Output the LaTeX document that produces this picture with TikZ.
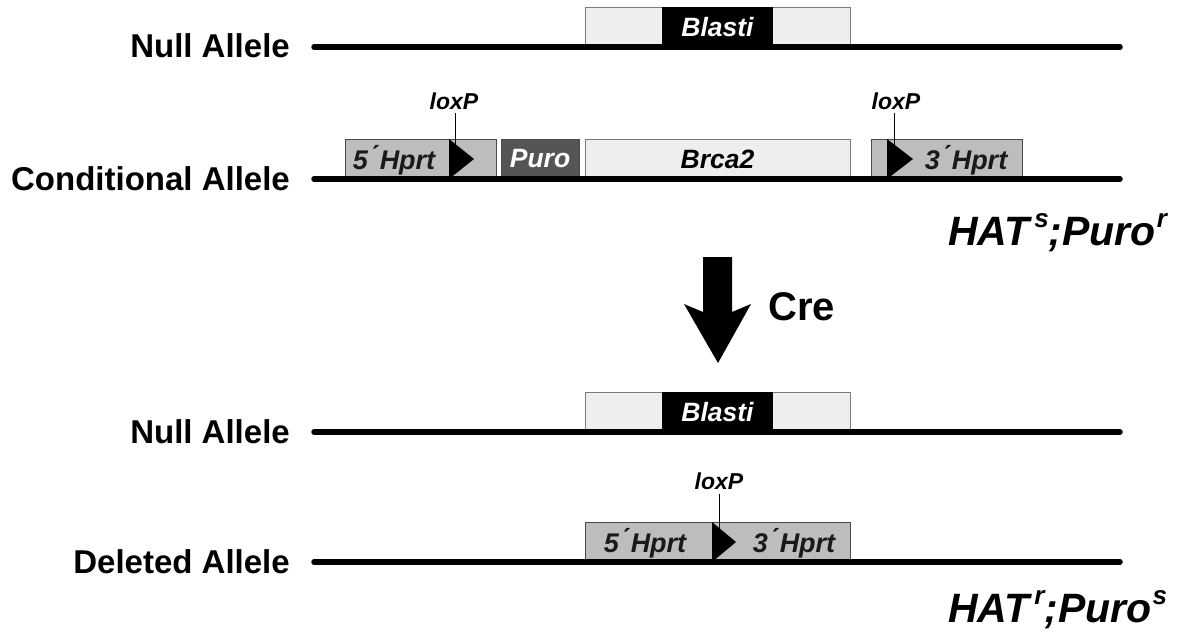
\documentclass[tikz,border=0pt]{standalone}
\usepackage{fontspec}
\setmainfont{Liberation Sans}
\definecolor{boxlight}{HTML}{EEEEEE}
\definecolor{boxedge}{HTML}{7A7A7A}
\definecolor{hprtfill}{HTML}{BDBDBD}
\definecolor{hprtedge}{HTML}{4A4A4A}
\definecolor{purofill}{HTML}{555555}
\tikzset{
  allele/.style={line width=5.5pt, line cap=round},
  alabel/.style={font=\fontsize{33}{36}\selectfont\bfseries, anchor=base east, inner sep=0pt},
  genebox/.style={inner sep=0pt, minimum height=40pt, font=\fontsize{26.5}{28}\selectfont\bfseries\itshape},
  lightbox/.style={genebox, draw=boxedge, line width=1pt, fill=boxlight},
  blackbox/.style={genebox, fill=black, text=white},
  purobox/.style={genebox, draw=hprtedge, line width=1pt, fill=purofill, text=white},
  hprtbox/.style={genebox, draw=hprtedge, line width=1pt, fill=hprtfill},
  hprttext/.style={inner sep=0pt, anchor=base, font=\fontsize{27}{29}\selectfont\bfseries\itshape, text=black!90},
  loxlabel/.style={inner sep=0pt, anchor=base, font=\fontsize{23}{25}\selectfont\bfseries\itshape},
  loxtick/.style={line width=1pt},
  loxsite/.style={fill=black},
  pheno/.style={inner sep=0pt, anchor=base west, font=\fontsize{41}{44}\selectfont\bfseries\itshape},
}
% raised phenotype marker; the optional argument sets the gap before it
\newcommand{\supr}[2][0pt]{\hspace{#1}\raisebox{0.42em}{\fontsize{26}{26}\selectfont #2}}
\begin{document}
\begin{tikzpicture}[x=1pt, y=-1pt]
\useasboundingbox (0,0) rectangle (1178,635);

% ---------- Null allele (top) ----------
\node[alabel] (nullA) at (290,57) {Null Allele};
\node[lightbox, minimum width=265pt] (blastiOuterA) at (717.5,27) {};
\node[blackbox, minimum width=111pt] (blastiA) at (717.5,27) {Blasti};
\coordinate (nullAstart) at (314,47);
\coordinate (nullAend) at (1120,47);
\draw[allele] (nullAstart) -- (nullAend);

% ---------- Conditional allele ----------
\node[alabel] (condL) at (290,190) {Conditional Allele};
\node[hprtbox, minimum width=151pt] (hprt5) at (420.5,159) {};
\node[purobox, minimum width=78pt] (puro) at (540,159) {Puro};
\node[lightbox, minimum width=265pt] (brca) at (717.5,159) {Brca2};
\node[hprtbox, minimum width=151pt] (hprt3) at (946.5,159) {};
\node[hprttext] (hprt5t) at (394,169) {5\'{}\,Hprt};
\node[hprttext] (hprt3t) at (966,169) {3\'{}\,Hprt};
\fill[loxsite] (449,139) -- (474,159) -- (449,179) -- cycle;
\fill[loxsite] (887,139) -- (913,159) -- (887,179) -- cycle;
\node[loxlabel] (loxA) at (454,109) {loxP};
\node[loxlabel] (loxB) at (896,109) {loxP};
\coordinate (loxAtip) at (455,150);
\coordinate (loxBtip) at (894,150);
\draw[loxtick] (loxA.south -| loxAtip) ++(0,4) -- (loxAtip);
\draw[loxtick] (loxB.south -| loxBtip) ++(0,4) -- (loxBtip);
\coordinate (condStart) at (314,179);
\coordinate (condEnd) at (1120,179);
\draw[allele] (condStart) -- (condEnd);
\node[pheno] (phenoA) at (948,245) {HAT\supr[5pt]{s};Puro\supr[1pt]{r}};

% ---------- Cre recombination arrow ----------
\fill (703,257) -- (732,257) -- (732,312) -- (751,304) -- (718,363)
      -- (684,304) -- (703,312) -- cycle;
\node[inner sep=0pt, anchor=base west, font=\fontsize{40}{42}\selectfont\bfseries] (cre) at (768,320) {Cre};

% ---------- Null allele (bottom) ----------
\node[alabel] (nullB) at (290,443) {Null Allele};
\node[lightbox, minimum width=265pt] (blastiOuterB) at (717.5,412) {};
\node[blackbox, minimum width=111pt] (blastiB) at (717.5,412) {Blasti};
\coordinate (nullBstart) at (314,432);
\coordinate (nullBend) at (1120,432);
\draw[allele] (nullBstart) -- (nullBend);

% ---------- Deleted allele ----------
\node[alabel] (delL) at (290,573) {Deleted Allele};
\node[hprtbox, minimum width=265pt] (hprtDel) at (717.5,542) {};
\node[hprttext] (del5t) at (645,552) {5\'{}\,Hprt};
\node[hprttext] (del3t) at (794,552) {3\'{}\,Hprt};
\fill[loxsite] (712,522) -- (736,542) -- (712,562) -- cycle;
\node[loxlabel] (loxC) at (719,489) {loxP};
\coordinate (loxCtip) at (719,530);
\draw[loxtick] (loxC.south -| loxCtip) ++(0,5) -- (loxCtip);
\coordinate (delStart) at (314,562);
\coordinate (delEnd) at (1120,562);
\draw[allele] (delStart) -- (delEnd);
\node[pheno] (phenoB) at (948,622) {HAT\supr[5pt]{r};Puro\supr[1pt]{s}};
\end{tikzpicture}
\end{document}
